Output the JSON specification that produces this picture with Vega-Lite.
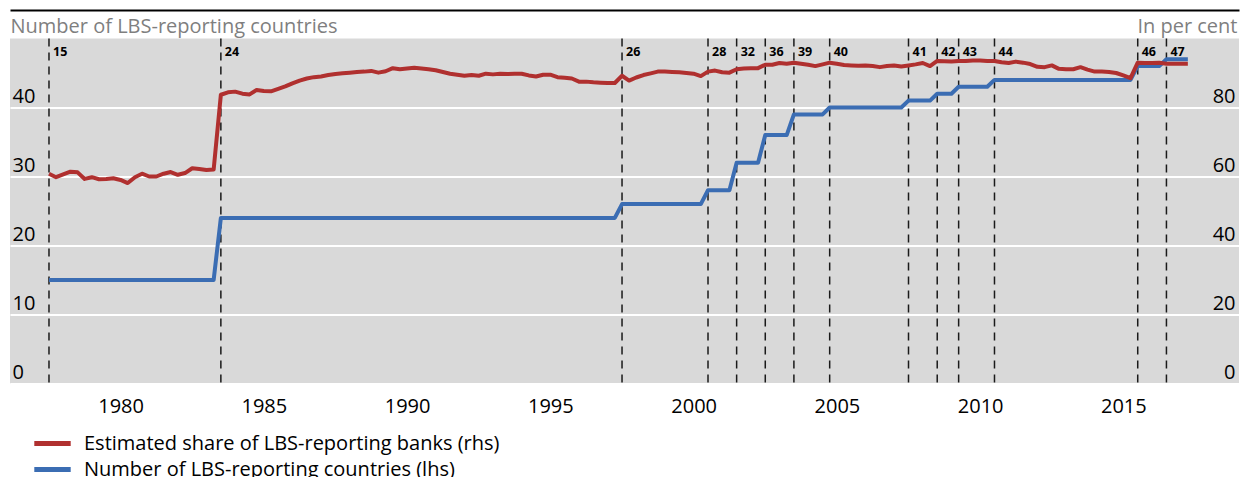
{
  "$schema": "https://vega.github.io/schema/vega-lite/v6.json",
  "width": 1229,
  "height": 345,
  "autosize": "none",
  "padding": {"left": 10, "top": 38.5, "right": 2, "bottom": 93.5},
  "background": "white",
  "config": {
    "font": "Open Sans",
    "view": {"fill": "#d9d9d9", "stroke": null},
    "axis": {
      "labelFont": "Open Sans", "labelFontSize": 20, "labelColor": "black",
      "titleFont": "Open Sans", "titleFontSize": 20, "titleColor": "#7f7f7f", "titleFontWeight": "normal",
      "ticks": false, "tickSize": 0, "domain": false, "grid": false,
      "labelFlush": false, "labelOverlap": false, "labelBound": false
    },
    "axisLeft": {
      "labelAlign": "left", "labelPadding": -2, "labelBaseline": "alphabetic", "labelOffset": -5,
      "titleAngle": 0, "titleAlign": "left", "titleBaseline": "alphabetic", "titleX": 0, "titleY": -6
    },
    "axisRight": {
      "labelAlign": "right", "labelPadding": -4, "labelBaseline": "alphabetic", "labelOffset": -5,
      "titleAngle": 0, "titleAlign": "right", "titleBaseline": "alphabetic", "titleX": -2, "titleY": -6
    },
    "axisBottom": {"labelAlign": "center", "labelBaseline": "alphabetic", "labelPadding": 29},
    "legend": {
      "orient": "none", "legendX": 27, "legendY": 389.5, "direction": "vertical",
      "symbolType": "M-1.4,0H1.4", "symbolSize": 676, "symbolStrokeWidth": 5,
      "labelFont": "Open Sans", "labelFontSize": 20, "labelColor": "black", "labelOffset": 16,
      "rowPadding": 0, "padding": 0, "labelLimit": 0
    }
  },
  "datasets": {
    "events": [
      {"date": "1977-12-31", "label": "15"},
      {"date": "1983-12-31", "label": "24"},
      {"date": "1997-12-31", "label": "26"},
      {"date": "2000-12-31", "label": "28"},
      {"date": "2001-12-31", "label": "32"},
      {"date": "2002-12-31", "label": "36"},
      {"date": "2003-12-31", "label": "39"},
      {"date": "2005-03-31", "label": "40"},
      {"date": "2007-12-31", "label": "41"},
      {"date": "2008-12-31", "label": "42"},
      {"date": "2009-09-30", "label": "43"},
      {"date": "2010-12-31", "label": "44"},
      {"date": "2015-12-31", "label": "46"},
      {"date": "2016-12-31", "label": "47"}
    ],
    "series": [
      {"date": "1977-12-31", "countries": 15, "share": 60.8},
      {"date": "1978-03-31", "countries": 15, "share": 59.8},
      {"date": "1978-06-30", "countries": 15, "share": 60.6},
      {"date": "1978-09-30", "countries": 15, "share": 61.4},
      {"date": "1978-12-31", "countries": 15, "share": 61.2},
      {"date": "1979-03-31", "countries": 15, "share": 59.3},
      {"date": "1979-06-30", "countries": 15, "share": 59.8},
      {"date": "1979-09-30", "countries": 15, "share": 59.2},
      {"date": "1979-12-31", "countries": 15, "share": 59.3},
      {"date": "1980-03-31", "countries": 15, "share": 59.5},
      {"date": "1980-06-30", "countries": 15, "share": 59.0},
      {"date": "1980-09-30", "countries": 15, "share": 58.1},
      {"date": "1980-12-31", "countries": 15, "share": 59.8},
      {"date": "1981-03-31", "countries": 15, "share": 60.8},
      {"date": "1981-06-30", "countries": 15, "share": 60.0},
      {"date": "1981-09-30", "countries": 15, "share": 60.0},
      {"date": "1981-12-31", "countries": 15, "share": 60.8},
      {"date": "1982-03-31", "countries": 15, "share": 61.3},
      {"date": "1982-06-30", "countries": 15, "share": 60.5},
      {"date": "1982-09-30", "countries": 15, "share": 61.0},
      {"date": "1982-12-31", "countries": 15, "share": 62.4},
      {"date": "1983-03-31", "countries": 15, "share": 62.2},
      {"date": "1983-06-30", "countries": 15, "share": 61.9},
      {"date": "1983-09-30", "countries": 15, "share": 62.0},
      {"date": "1983-12-31", "countries": 24, "share": 83.7},
      {"date": "1984-03-31", "countries": 24, "share": 84.4},
      {"date": "1984-06-30", "countries": 24, "share": 84.6},
      {"date": "1984-09-30", "countries": 24, "share": 84.0},
      {"date": "1984-12-31", "countries": 24, "share": 83.8},
      {"date": "1985-03-31", "countries": 24, "share": 85.1},
      {"date": "1985-06-30", "countries": 24, "share": 84.8},
      {"date": "1985-09-30", "countries": 24, "share": 84.7},
      {"date": "1985-12-31", "countries": 24, "share": 85.4},
      {"date": "1986-03-31", "countries": 24, "share": 86.1},
      {"date": "1986-06-30", "countries": 24, "share": 87.0},
      {"date": "1986-09-30", "countries": 24, "share": 87.8},
      {"date": "1986-12-31", "countries": 24, "share": 88.4},
      {"date": "1987-03-31", "countries": 24, "share": 88.8},
      {"date": "1987-06-30", "countries": 24, "share": 89.0},
      {"date": "1987-09-30", "countries": 24, "share": 89.4},
      {"date": "1987-12-31", "countries": 24, "share": 89.7},
      {"date": "1988-03-31", "countries": 24, "share": 89.9},
      {"date": "1988-06-30", "countries": 24, "share": 90.1},
      {"date": "1988-09-30", "countries": 24, "share": 90.3},
      {"date": "1988-12-31", "countries": 24, "share": 90.4},
      {"date": "1989-03-31", "countries": 24, "share": 90.6},
      {"date": "1989-06-30", "countries": 24, "share": 90.1},
      {"date": "1989-09-30", "countries": 24, "share": 90.5},
      {"date": "1989-12-31", "countries": 24, "share": 91.4},
      {"date": "1990-03-31", "countries": 24, "share": 91.1},
      {"date": "1990-06-30", "countries": 24, "share": 91.3},
      {"date": "1990-09-30", "countries": 24, "share": 91.5},
      {"date": "1990-12-31", "countries": 24, "share": 91.3},
      {"date": "1991-03-31", "countries": 24, "share": 91.1},
      {"date": "1991-06-30", "countries": 24, "share": 90.8},
      {"date": "1991-09-30", "countries": 24, "share": 90.3},
      {"date": "1991-12-31", "countries": 24, "share": 89.8},
      {"date": "1992-03-31", "countries": 24, "share": 89.5},
      {"date": "1992-06-30", "countries": 24, "share": 89.2},
      {"date": "1992-09-30", "countries": 24, "share": 89.4},
      {"date": "1992-12-31", "countries": 24, "share": 89.2},
      {"date": "1993-03-31", "countries": 24, "share": 89.8},
      {"date": "1993-06-30", "countries": 24, "share": 89.6},
      {"date": "1993-09-30", "countries": 24, "share": 89.8},
      {"date": "1993-12-31", "countries": 24, "share": 89.7},
      {"date": "1994-03-31", "countries": 24, "share": 89.8},
      {"date": "1994-06-30", "countries": 24, "share": 89.8},
      {"date": "1994-09-30", "countries": 24, "share": 89.3},
      {"date": "1994-12-31", "countries": 24, "share": 89.0},
      {"date": "1995-03-31", "countries": 24, "share": 89.5},
      {"date": "1995-06-30", "countries": 24, "share": 89.5},
      {"date": "1995-09-30", "countries": 24, "share": 88.8},
      {"date": "1995-12-31", "countries": 24, "share": 88.6},
      {"date": "1996-03-31", "countries": 24, "share": 88.4},
      {"date": "1996-06-30", "countries": 24, "share": 87.5},
      {"date": "1996-09-30", "countries": 24, "share": 87.5},
      {"date": "1996-12-31", "countries": 24, "share": 87.3},
      {"date": "1997-03-31", "countries": 24, "share": 87.2},
      {"date": "1997-06-30", "countries": 24, "share": 87.1},
      {"date": "1997-09-30", "countries": 24, "share": 87.1},
      {"date": "1997-12-31", "countries": 26, "share": 89.2},
      {"date": "1998-03-31", "countries": 26, "share": 87.8},
      {"date": "1998-06-30", "countries": 26, "share": 88.7},
      {"date": "1998-09-30", "countries": 26, "share": 89.4},
      {"date": "1998-12-31", "countries": 26, "share": 89.9},
      {"date": "1999-03-31", "countries": 26, "share": 90.4},
      {"date": "1999-06-30", "countries": 26, "share": 90.4},
      {"date": "1999-09-30", "countries": 26, "share": 90.3},
      {"date": "1999-12-31", "countries": 26, "share": 90.2},
      {"date": "2000-03-31", "countries": 26, "share": 90.0},
      {"date": "2000-06-30", "countries": 26, "share": 89.8},
      {"date": "2000-09-30", "countries": 26, "share": 89.1},
      {"date": "2000-12-31", "countries": 28, "share": 90.4},
      {"date": "2001-03-31", "countries": 28, "share": 90.7},
      {"date": "2001-06-30", "countries": 28, "share": 90.2},
      {"date": "2001-09-30", "countries": 28, "share": 90.1},
      {"date": "2001-12-31", "countries": 32, "share": 91.1},
      {"date": "2002-03-31", "countries": 32, "share": 91.3},
      {"date": "2002-06-30", "countries": 32, "share": 91.4},
      {"date": "2002-09-30", "countries": 32, "share": 91.4},
      {"date": "2002-12-31", "countries": 36, "share": 92.4},
      {"date": "2003-03-31", "countries": 36, "share": 92.4},
      {"date": "2003-06-30", "countries": 36, "share": 92.9},
      {"date": "2003-09-30", "countries": 36, "share": 92.7},
      {"date": "2003-12-31", "countries": 39, "share": 93.0},
      {"date": "2004-03-31", "countries": 39, "share": 92.7},
      {"date": "2004-06-30", "countries": 39, "share": 92.4},
      {"date": "2004-09-30", "countries": 39, "share": 92.0},
      {"date": "2004-12-31", "countries": 39, "share": 92.5},
      {"date": "2005-03-31", "countries": 40, "share": 93.0},
      {"date": "2005-06-30", "countries": 40, "share": 92.7},
      {"date": "2005-09-30", "countries": 40, "share": 92.3},
      {"date": "2005-12-31", "countries": 40, "share": 92.2},
      {"date": "2006-03-31", "countries": 40, "share": 92.1},
      {"date": "2006-06-30", "countries": 40, "share": 92.2},
      {"date": "2006-09-30", "countries": 40, "share": 92.0},
      {"date": "2006-12-31", "countries": 40, "share": 91.7},
      {"date": "2007-03-31", "countries": 40, "share": 92.0},
      {"date": "2007-06-30", "countries": 40, "share": 92.2},
      {"date": "2007-09-30", "countries": 40, "share": 91.9},
      {"date": "2007-12-31", "countries": 41, "share": 92.2},
      {"date": "2008-03-31", "countries": 41, "share": 92.5},
      {"date": "2008-06-30", "countries": 41, "share": 92.9},
      {"date": "2008-09-30", "countries": 41, "share": 92.0},
      {"date": "2008-12-31", "countries": 42, "share": 93.5},
      {"date": "2009-03-31", "countries": 42, "share": 93.4},
      {"date": "2009-06-30", "countries": 42, "share": 93.3},
      {"date": "2009-09-30", "countries": 43, "share": 93.5},
      {"date": "2009-12-31", "countries": 43, "share": 93.5},
      {"date": "2010-03-31", "countries": 43, "share": 93.6},
      {"date": "2010-06-30", "countries": 43, "share": 93.6},
      {"date": "2010-09-30", "countries": 43, "share": 93.5},
      {"date": "2010-12-31", "countries": 44, "share": 93.5},
      {"date": "2011-03-31", "countries": 44, "share": 93.1},
      {"date": "2011-06-30", "countries": 44, "share": 92.9},
      {"date": "2011-09-30", "countries": 44, "share": 93.3},
      {"date": "2011-12-31", "countries": 44, "share": 93.0},
      {"date": "2012-03-31", "countries": 44, "share": 92.6},
      {"date": "2012-06-30", "countries": 44, "share": 91.8},
      {"date": "2012-09-30", "countries": 44, "share": 91.7},
      {"date": "2012-12-31", "countries": 44, "share": 92.2},
      {"date": "2013-03-31", "countries": 44, "share": 91.2},
      {"date": "2013-06-30", "countries": 44, "share": 91.1},
      {"date": "2013-09-30", "countries": 44, "share": 91.1},
      {"date": "2013-12-31", "countries": 44, "share": 91.7},
      {"date": "2014-03-31", "countries": 44, "share": 91.0},
      {"date": "2014-06-30", "countries": 44, "share": 90.4},
      {"date": "2014-09-30", "countries": 44, "share": 90.4},
      {"date": "2014-12-31", "countries": 44, "share": 90.3},
      {"date": "2015-03-31", "countries": 44, "share": 90.0},
      {"date": "2015-06-30", "countries": 44, "share": 89.3},
      {"date": "2015-09-30", "countries": 44, "share": 88.5},
      {"date": "2015-12-31", "countries": 46, "share": 93.0},
      {"date": "2016-03-31", "countries": 46, "share": 92.9},
      {"date": "2016-06-30", "countries": 46, "share": 92.9},
      {"date": "2016-09-30", "countries": 46, "share": 93.0},
      {"date": "2016-12-31", "countries": 47, "share": 92.7},
      {"date": "2017-03-31", "countries": 47, "share": 92.7},
      {"date": "2017-06-30", "countries": 47, "share": 92.7},
      {"date": "2017-09-30", "countries": 47, "share": 92.7}
    ]
  },
  "layer": [
    {
      "layer": [
        {
          "data": {"name": "events"},
          "mark": {"type": "rule", "strokeDash": [8, 6], "strokeWidth": 1.5, "color": "#1a1a1a"},
          "encoding": {
            "x": {"field": "date", "type": "temporal",
              "scale": {"type": "utc", "domain": [{"year": 1976, "month": 8, "date": 21, "utc": true}, {"year": 2019, "month": 7, "date": 14, "utc": true}]},
              "axis": {"orient": "bottom", "title": null,
                "values": [
                  {"year": 1980, "month": 7, "date": 1, "utc": true},
                  {"year": 1985, "month": 7, "date": 1, "utc": true},
                  {"year": 1990, "month": 7, "date": 1, "utc": true},
                  {"year": 1995, "month": 7, "date": 1, "utc": true},
                  {"year": 2000, "month": 7, "date": 1, "utc": true},
                  {"year": 2005, "month": 7, "date": 1, "utc": true},
                  {"year": 2010, "month": 7, "date": 1, "utc": true},
                  {"year": 2015, "month": 7, "date": 1, "utc": true}
                ],
                "labelExpr": "utcFormat(datum.value, '%Y')"}}
          }
        },
        {
          "data": {"name": "events"},
          "mark": {"type": "text", "align": "left", "baseline": "middle", "dx": 4, "fontSize": 12.5, "fontWeight": "bold", "color": "black", "font": "Open Sans"},
          "encoding": {
            "x": {"field": "date", "type": "temporal",
              "scale": {"type": "utc", "domain": [{"year": 1976, "month": 8, "date": 21, "utc": true}, {"year": 2019, "month": 7, "date": 14, "utc": true}]},
              "axis": {"orient": "bottom", "title": null,
                "values": [
                  {"year": 1980, "month": 7, "date": 1, "utc": true},
                  {"year": 1985, "month": 7, "date": 1, "utc": true},
                  {"year": 1990, "month": 7, "date": 1, "utc": true},
                  {"year": 1995, "month": 7, "date": 1, "utc": true},
                  {"year": 2000, "month": 7, "date": 1, "utc": true},
                  {"year": 2005, "month": 7, "date": 1, "utc": true},
                  {"year": 2010, "month": 7, "date": 1, "utc": true},
                  {"year": 2015, "month": 7, "date": 1, "utc": true}
                ],
                "labelExpr": "utcFormat(datum.value, '%Y')"}},
            "y": {"datum": 48, "type": "quantitative", "scale": {"domain": [0, 50]},
              "axis": {"orient": "left", "title": "Number of LBS-reporting countries", "values": [0, 10, 20, 30, 40],
                "grid": true, "gridColor": "white", "gridWidth": 2, "gridOpacity": 1}},
            "text": {"field": "label"}
          }
        },
        {
          "data": {"name": "series"},
          "mark": {"type": "line", "strokeWidth": 4, "strokeJoin": "round"},
          "encoding": {
            "x": {"field": "date", "type": "temporal",
              "scale": {"type": "utc", "domain": [{"year": 1976, "month": 8, "date": 21, "utc": true}, {"year": 2019, "month": 7, "date": 14, "utc": true}]},
              "axis": {"orient": "bottom", "title": null,
                "values": [
                  {"year": 1980, "month": 7, "date": 1, "utc": true},
                  {"year": 1985, "month": 7, "date": 1, "utc": true},
                  {"year": 1990, "month": 7, "date": 1, "utc": true},
                  {"year": 1995, "month": 7, "date": 1, "utc": true},
                  {"year": 2000, "month": 7, "date": 1, "utc": true},
                  {"year": 2005, "month": 7, "date": 1, "utc": true},
                  {"year": 2010, "month": 7, "date": 1, "utc": true},
                  {"year": 2015, "month": 7, "date": 1, "utc": true}
                ],
                "labelExpr": "utcFormat(datum.value, '%Y')"}},
            "y": {"field": "countries", "type": "quantitative", "scale": {"domain": [0, 50]},
              "axis": {"orient": "left", "title": "Number of LBS-reporting countries", "values": [0, 10, 20, 30, 40],
                "grid": true, "gridColor": "white", "gridWidth": 2, "gridOpacity": 1}},
            "color": {"datum": "Number of LBS-reporting countries (lhs)",
              "scale": {"domain": ["Estimated share of LBS-reporting banks (rhs)", "Number of LBS-reporting countries (lhs)"], "range": ["#b0302f", "#3b6db3"]},
              "legend": {"title": null}}
          }
        }
      ]
    },
    {
      "data": {"name": "series"},
      "mark": {"type": "line", "strokeWidth": 4, "strokeJoin": "round"},
      "encoding": {
        "x": {"field": "date", "type": "temporal",
          "scale": {"type": "utc", "domain": [{"year": 1976, "month": 8, "date": 21, "utc": true}, {"year": 2019, "month": 7, "date": 14, "utc": true}]},
          "axis": {"orient": "top", "title": null, "labels": false, "ticks": false, "grid": false,
            "domain": true, "domainColor": "black", "domainWidth": 2, "offset": 28.5}},
        "y": {"field": "share", "type": "quantitative", "scale": {"domain": [0, 100]},
          "axis": {"orient": "right", "title": "In per cent", "values": [0, 20, 40, 60, 80], "grid": false}},
        "color": {"datum": "Estimated share of LBS-reporting banks (rhs)",
          "scale": {"domain": ["Estimated share of LBS-reporting banks (rhs)", "Number of LBS-reporting countries (lhs)"], "range": ["#b0302f", "#3b6db3"]},
          "legend": {"title": null}}
      }
    }
  ],
  "resolve": {"scale": {"y": "independent"}, "axis": {"x": "independent"}}
}
